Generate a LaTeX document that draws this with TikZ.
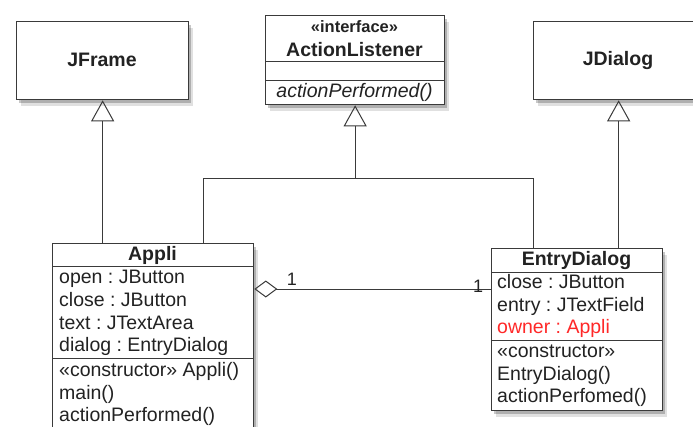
\documentclass[tikz,border=0pt]{standalone}
\usepackage{fontspec}
\setmainfont{Liberation Sans}
\usepackage{tikz}
\usetikzlibrary{arrows.meta,shadows}
\definecolor{ink}{RGB}{34,34,34}
\definecolor{rule}{RGB}{58,58,58}
\definecolor{ownred}{RGB}{255,40,40}
\frenchspacing

\begin{document}
\begin{tikzpicture}[x=1pt,y=-1pt,
cls/.style={draw=rule,fill=white,line width=1.3pt,anchor=north west,inner sep=0pt,
  drop shadow={shadow xshift=4pt,shadow yshift=-6pt,opacity=.12,fill=black},
  drop shadow={shadow xshift=2pt,shadow yshift=-3pt,opacity=.22,fill=black}},
txt/.style={inner sep=0pt,text=ink,font=\fontsize{19.5}{22.7}\selectfont},
bold/.style={txt,font=\fontsize{19.5}{22.7}\selectfont\bfseries},
list/.style={txt,align=left,anchor=west},
sep/.style={draw=rule,line width=1pt},
gen/.style={draw=rule,line width=1pt,-{Triangle[open,length=21pt,width=23pt]}},
agg/.style={draw=rule,line width=1pt,{Diamond[open,length=23pt,width=17pt]}-},
lnk/.style={draw=rule,line width=1pt},
mult/.style={txt,font=\fontsize{18}{20}\selectfont}]
\useasboundingbox (0,0) rectangle (693,426);
\clip (0,0) rectangle (693,426);
% class boxes
\node[cls,minimum width=172pt,minimum height=78pt] (jframe) at (16,21) {};
\node[cls,minimum width=170pt,minimum height=78pt] (jdialog) at (533,21) {};
\node[cls,minimum width=179pt,minimum height=89pt] (listener) at (265,15) {};
\node[cls,minimum width=201pt,minimum height=200pt] (appli) at (52,243) {};
\node[cls,minimum width=171pt,minimum height=162pt] (entry) at (491,248) {};
% compartments
\foreach \b/\d in {listener/46,listener/65,appli/23,appli/115,entry/24,entry/92}
  \draw[sep] ([yshift=-\d pt]\b.north west) -- ([yshift=-\d pt]\b.north east);
% texts
\node[bold] (jframeT) at (102,60) {JFrame};
\node[bold] (jdialogT) at (618,60) {JDialog};
\node[bold,font=\fontsize{16.5}{18}\selectfont\bfseries] (listenerS) at (354.5,27) {«interface»};
\node[bold] (listenerT) at (354.5,50) {ActionListener};
\node[txt,font=\fontsize{19.5}{22.7}\selectfont\itshape] (listenerM) at (354.5,92) {actionPerformed()};
\node[bold] (appliT) at (152.5,255) {Appli};
\node[list] (appliA) at (59,313) {open : JButton\\close : JButton\\text : JTextArea\\dialog : EntryDialog};
\node[list] (appliM) at (59,394) {«constructor» Appli()\\main()\\actionPerformed()};
\node[bold] (entryT) at (576.5,260) {EntryDialog};
\node[list] (entryA) at (497,306) {close : JButton\\entry : JTextField\\\textcolor{ownred}{owner : Appli}};
\node[list] (entryM) at (497,376) {«constructor»\\EntryDialog()\\actionPerfomed()};
% inheritance
\coordinate (jl) at (203,178);
\coordinate (jr) at (533,178);
\draw[gen] (jframe.south |- appli.north) -- (jframe.south);
\draw[gen] (jdialog.south |- entry.north) -- (jdialog.south);
\draw[lnk] (jl |- appli.north) -- (jl) -- (jr) -- (jr |- entry.north);
\draw[gen] (listener.south |- jl) -- (listener.south);
% association
\coordinate (as) at (0,289);
\draw[agg] (appli.east |- as) -- (entry.west |- as);
\node[mult] (m1) at (292,279) {1};
\node[mult] (m2) at (478,286) {1};
\end{tikzpicture}
\end{document}
